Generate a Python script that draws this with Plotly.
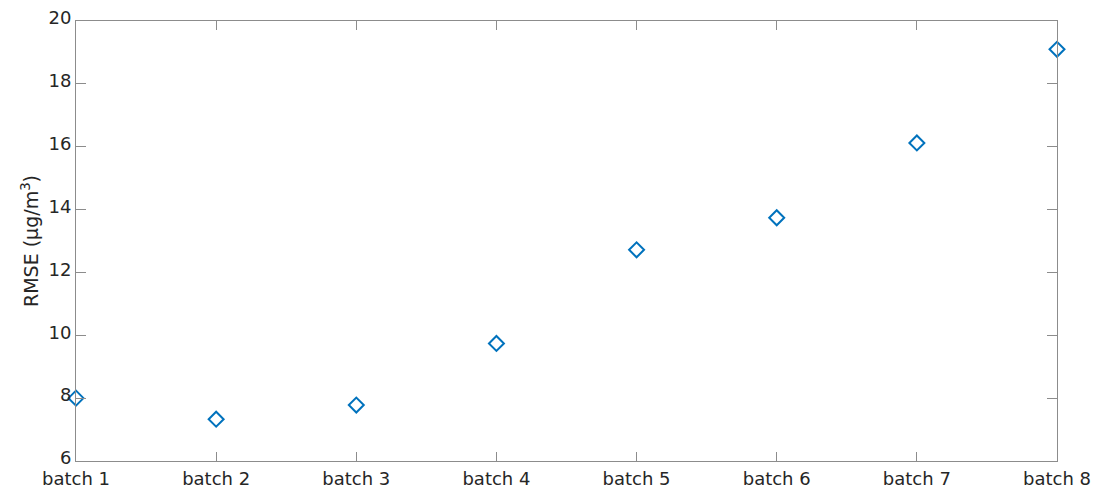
import plotly.graph_objects as go

# RMSE per batch
batches = ["batch 1", "batch 2", "batch 3", "batch 4",
           "batch 5", "batch 6", "batch 7", "batch 8"]
batch_pos = [1, 2, 3, 4, 5, 6, 7, 8]
rmse = [8.0, 7.33, 7.78, 9.74, 12.72, 13.74, 16.12, 19.1]
y_ticks = [6, 8, 10, 12, 14, 16, 18, 20]

font = dict(family="DejaVu Sans, Liberation Sans, sans-serif", size=18, color="#262626")
title_font = dict(font, size=19)

fig = go.Figure(
    go.Scatter(
        x=batch_pos,
        y=rmse,
        mode="markers",
        marker=dict(symbol="diamond-open", size=11.5, color="#0072BD",
                    line=dict(width=2, color="#0072BD")),
        cliponaxis=False,
        showlegend=False,
    )
)

axis_common = dict(
    showgrid=False,
    zeroline=False,
    showline=True,
    linecolor="#8c8c8c",
    linewidth=1,
    mirror="ticks",
    ticks="inside",
    tickcolor="#8c8c8c",
    tickwidth=1,
    tickfont=font,
    automargin=False,
)

fig.update_xaxes(
    range=[1, 8],
    tickmode="array",
    tickvals=batch_pos,
    ticktext=batches,
    ticklen=9,
    ticklabelstandoff=1,
    **axis_common,
)
fig.update_yaxes(
    range=[6, 20],
    tickmode="array",
    tickvals=y_ticks,
    ticklen=10,
    ticklabelshift=-3,
    title=dict(text="RMSE (μg/m<sup>3</sup>)", font=title_font, standoff=4),
    **axis_common,
)

fig.update_layout(
    width=1094,
    height=489,
    margin=dict(l=76, r=37, t=21, b=28),
    plot_bgcolor="white",
    paper_bgcolor="white",
    font=font,
)

fig.write_html("out.html")
